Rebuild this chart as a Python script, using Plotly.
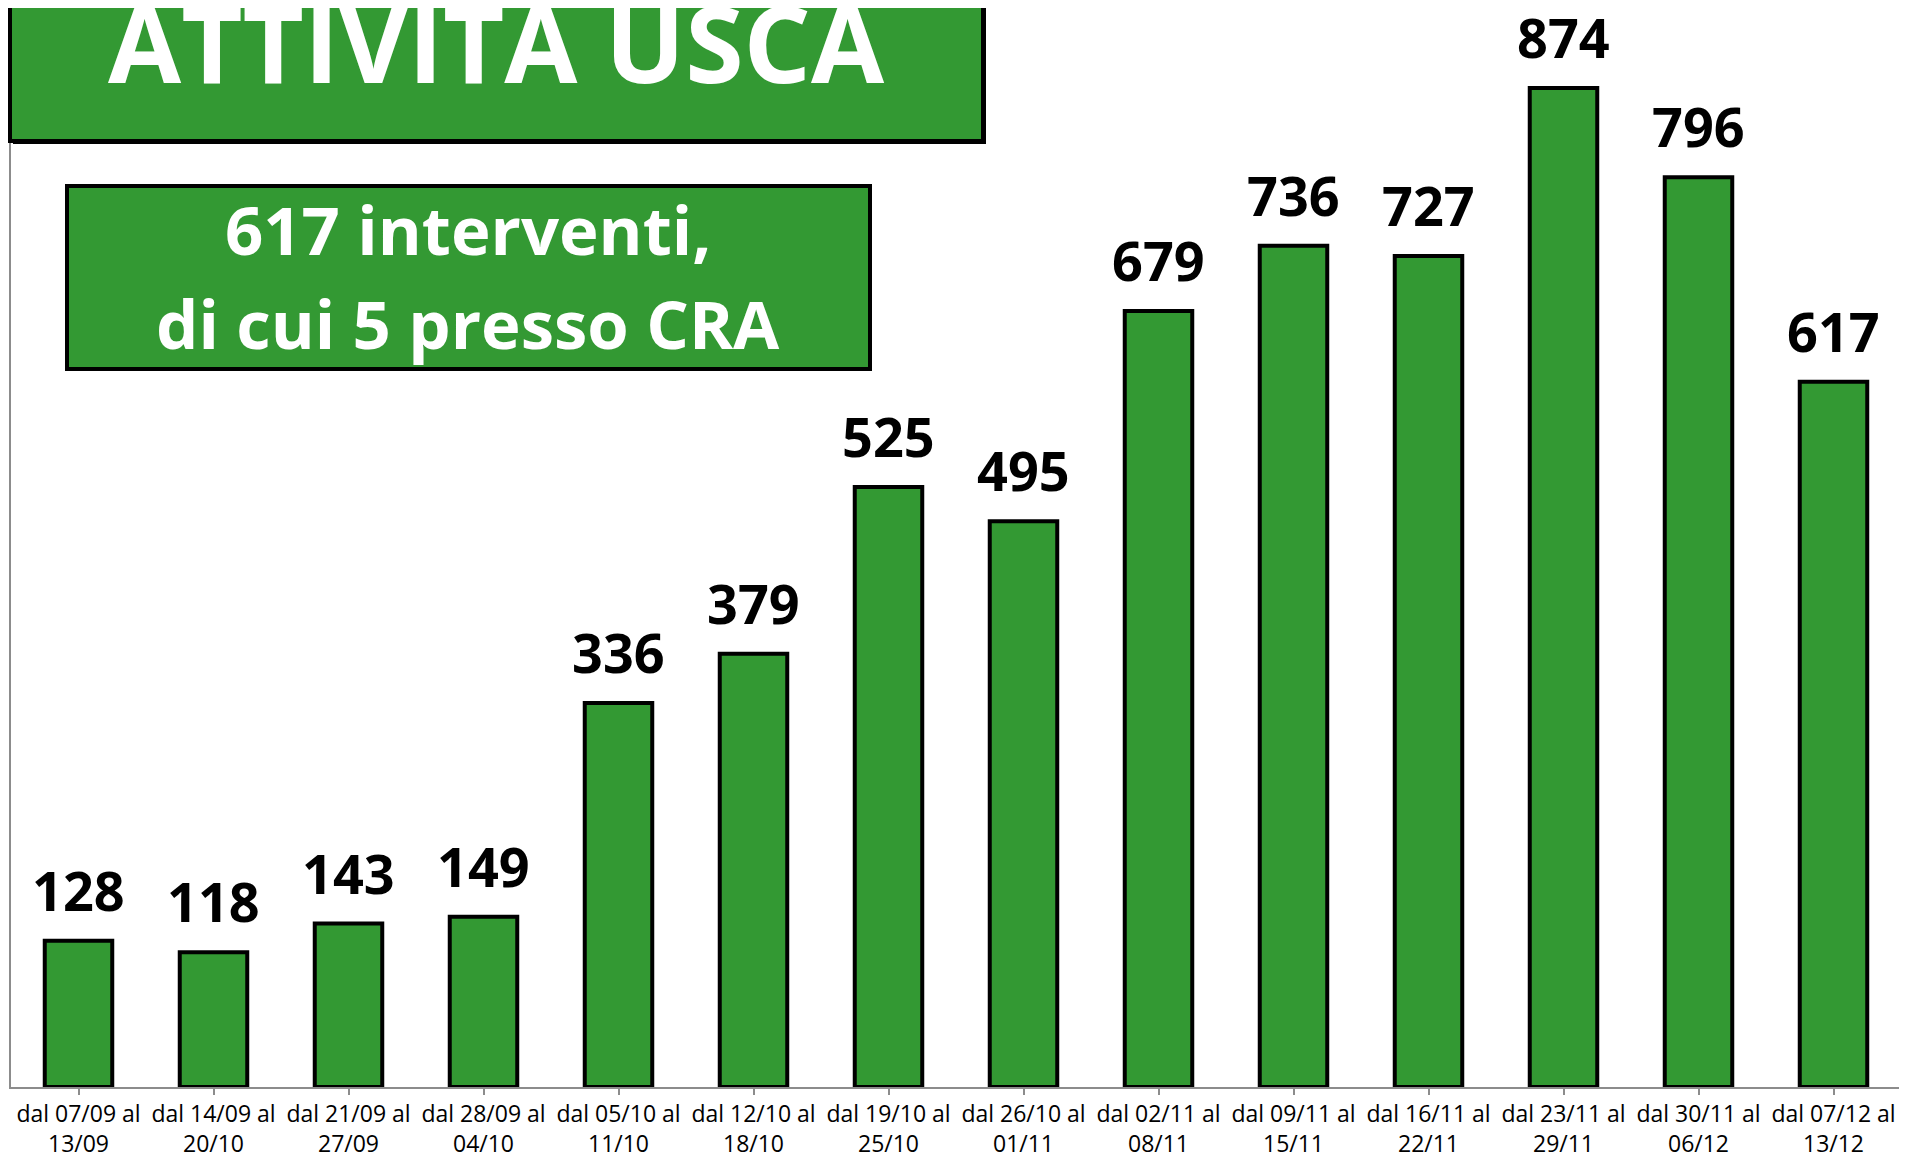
import plotly.graph_objects as go

categories = ["dal 07/09 al<br>13/09", "dal 14/09 al<br>20/10", "dal 21/09 al<br>27/09",
              "dal 28/09 al<br>04/10", "dal 05/10 al<br>11/10", "dal 12/10 al<br>18/10",
              "dal 19/10 al<br>25/10", "dal 26/10 al<br>01/11", "dal 02/11 al<br>08/11",
              "dal 09/11 al<br>15/11", "dal 16/11 al<br>22/11", "dal 23/11 al<br>29/11",
              "dal 30/11 al<br>06/12", "dal 07/12 al<br>13/12"]
values = [128, 118, 143, 149, 336, 379, 525, 495, 679, 736, 727, 874, 796, 617]
title_text = "ATTIVITA USCA"
subtitle_lines = ["617 interventi,", "di cui 5 presso CRA"]

# page has an 8px body margin; figure sized so the page fits the window without scrollbars
OFF = 8
W, H = 1891, 1154
ML, MR, MT, MB = 3, 0, 10, 75
PW, PH = W - ML - MR, H - MT - MB
BASE = H - MB  # figure coords
SCALE = 1.143  # px per unit (y)
XSTEP = 135.0  # px per category
X_RIGHT = -0.5 + PW / XSTEP


def px_x(px):  # page pixel -> paper
    return (px - OFF - ML) / PW


def px_y(py):  # page pixel -> paper
    return (BASE - (py - OFF)) / PH


GREEN = "#339933"
FONT = "Open Sans"

fig = go.Figure()
fig.add_trace(go.Bar(
    x=list(range(len(categories))), y=values,
    marker=dict(color=GREEN, line=dict(color="black", width=4)),
    hoverinfo="skip",
))

annotations = []
for i, v in enumerate(values):
    annotations.append(dict(
        x=i, y=v, xref="x", yref="y", text=str(v), showarrow=False,
        yanchor="bottom", yshift=12,
        font=dict(family=FONT, size=54, color="black", weight="bold"),
    ))

annotations.append(dict(
    x=px_x(497), y=px_y(42), xref="paper", yref="paper", text=title_text,
    showarrow=False, xanchor="center", yanchor="middle",
    font=dict(family=FONT, size=106, color="white", weight="bold"),
))
for line, cy in zip(subtitle_lines, [229, 323]):
    annotations.append(dict(
        x=px_x(468), y=px_y(cy), xref="paper", yref="paper", text=line,
        showarrow=False, xanchor="center", yanchor="middle",
        font=dict(family=FONT, size=67, color="white", weight="bold"),
    ))

shapes = [
    dict(type="rect", xref="paper", yref="paper", layer="above",
         x0=px_x(13), x1=px_x(986), y0=px_y(144), y1=px_y(-20),
         fillcolor="black", line=dict(width=0)),
    dict(type="rect", xref="paper", yref="paper", layer="above",
         x0=px_x(10), x1=px_x(983), y0=px_y(141), y1=px_y(-20),
         fillcolor=GREEN, line=dict(color="black", width=4)),
    dict(type="rect", xref="paper", yref="paper", layer="above",
         x0=px_x(67), x1=px_x(870), y0=px_y(369), y1=px_y(186),
         fillcolor=GREEN, line=dict(color="black", width=4)),
]

fig.update_layout(
    width=W, height=H,
    margin=dict(l=ML, r=MR, t=MT, b=MB),
    paper_bgcolor="white", plot_bgcolor="white",
    bargap=0.5, showlegend=False,
    annotations=annotations, shapes=shapes,
    xaxis=dict(
        tickmode="array", tickvals=list(range(len(categories))), ticktext=categories,
        range=[-0.5, X_RIGHT], automargin=False,
        showline=True, linecolor="#8c8c8c", linewidth=1.5,
        ticks="outside", tickson="boundaries", ticklen=6, tickcolor="#8c8c8c", tickwidth=1.5,
        tickfont=dict(family=FONT, size=23, color="black"),
        ticklabelstandoff=0, ticklabeloverflow="allow",
        showgrid=False, zeroline=False,
    ),
    yaxis=dict(
        range=[0, PH / SCALE], automargin=False,
        showline=True, linecolor="#8c8c8c", linewidth=1.5,
        showticklabels=False, ticks="", showgrid=False, zeroline=False,
    ),
)

fig.write_html("out.html")
